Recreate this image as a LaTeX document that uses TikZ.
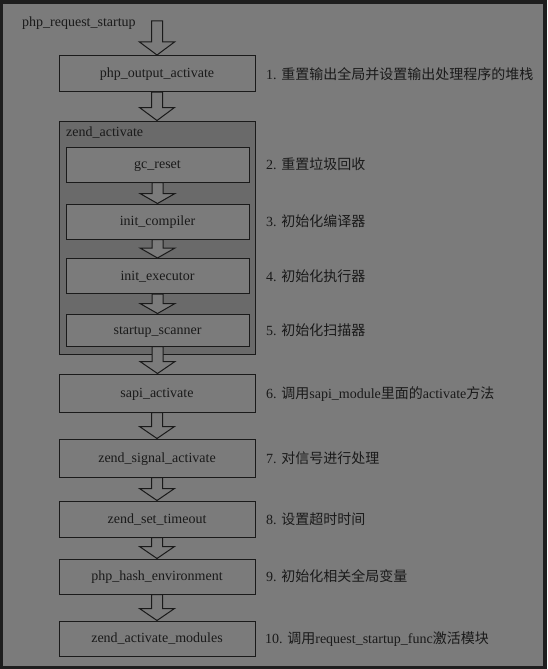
\documentclass[tikz,border=0pt]{standalone}
\usepackage{fontspec}
\setmainfont{Liberation Serif}
\newfontfamily\cjk{Noto Sans CJK SC}
\usetikzlibrary{calc}
\definecolor{bg}{HTML}{7B7B7B}
\definecolor{framec}{HTML}{1E1E1E}
\definecolor{innerc}{HTML}{6A6A6A}
\definecolor{ink}{HTML}{1A1A1A}
\newcommand\blockarr[3]{\draw[barrow] let \p1=(#1), \p2=(#2) in
  (\x1-5.5pt,\y1) -- (\x1-5.5pt,\y2+#3) -- (\x1-17.5pt,\y2+#3) -- (\x1,\y2)
  -- (\x1+17.5pt,\y2+#3) -- (\x1+5.5pt,\y2+#3) -- (\x1+5.5pt,\y1) -- cycle;}
\begin{document}
\begin{tikzpicture}[x=1pt,y=-1pt,font=\fontsize{14}{16}\selectfont,text=ink,
  box/.style={draw=ink,fill=bg,line width=1pt,minimum width=196pt,minimum height=36pt,
    inner sep=0pt,text height=10pt,text depth=2pt},
  ibox/.style={box,minimum width=183pt,minimum height=35pt},
  lbl/.style={anchor=base west,inner sep=0pt},
  barrow/.style={draw=ink,fill=bg,line width=1pt,line join=miter}]
\fill[framec] (0,0) rectangle (547,669);
\fill[bg] (3,4) rectangle (543,666);
\useasboundingbox (0,0) rectangle (547,669);

\node[lbl] (start) at (22,27) {php\_request\_startup};
\coordinate (s0) at (157,21);
\node[box] (b1) at (157,73.5) {php\_output\_activate};
\node[box,fill=innerc,minimum height=233pt] (za) at (157,237.5) {};
\node[lbl] (zat) at (66,136) {zend\_activate};
\node[ibox] (b2) at (157.5,164.5) {gc\_reset};
\node[ibox] (b3) at (157.5,221.5) {init\_compiler};
\node[ibox] (b4) at (157.5,276) {init\_executor};
\node[ibox,minimum height=32pt] (b5) at (157.5,330) {startup\_scanner};
\node[box,minimum height=38pt] (b6) at (157,393) {sapi\_activate};
\node[box,minimum height=38pt] (b7) at (157,458) {zend\_signal\_activate};
\node[box] (b8) at (157,519) {zend\_set\_timeout};
\node[box,minimum height=35pt] (b9) at (157,576.5) {php\_hash\_environment};
\node[box,minimum height=35pt] (b10) at (157,638.5) {zend\_activate\_modules};

\blockarr{s0}{b1.north}{13pt}
\blockarr{b1.south}{za.north}{13pt}
\blockarr{b2.south}{b3.north}{10pt}
\blockarr{b3.south}{b4.north}{10pt}
\blockarr{b4.south}{b5.north}{10pt}
\blockarr{b5.south}{b6.north}{12pt}
\blockarr{b6.south}{b7.north}{12pt}
\blockarr{b7.south}{b8.north}{12pt}
\blockarr{b8.south}{b9.north}{12pt}
\blockarr{b9.south}{b10.north}{12pt}

\node[lbl] (l1) at (266,80) {1. {\cjk 重置输出全局并设置输出处理程序的堆栈}};
\node[lbl] (l2) at (266,169.5) {2. {\cjk 重置垃圾回收}};
\node[lbl] (l3) at (266,226.5) {3. {\cjk 初始化编译器}};
\node[lbl] (l4) at (266,281) {4. {\cjk 初始化执行器}};
\node[lbl] (l5) at (266,335) {5. {\cjk 初始化扫描器}};
\node[lbl] (l6) at (266,398) {6. {\cjk 调用}sapi\_module{\cjk 里面的}activate{\cjk 方法}};
\node[lbl] (l7) at (266,463) {7. {\cjk 对信号进行处理}};
\node[lbl] (l8) at (266,524) {8. {\cjk 设置超时时间}};
\node[lbl] (l9) at (266,581.5) {9. {\cjk 初始化相关全局变量}};
\node[lbl] (l10) at (265,643.5) {10. {\cjk 调用}request\_startup\_func{\cjk 激活模块}};
\end{tikzpicture}
\end{document}
